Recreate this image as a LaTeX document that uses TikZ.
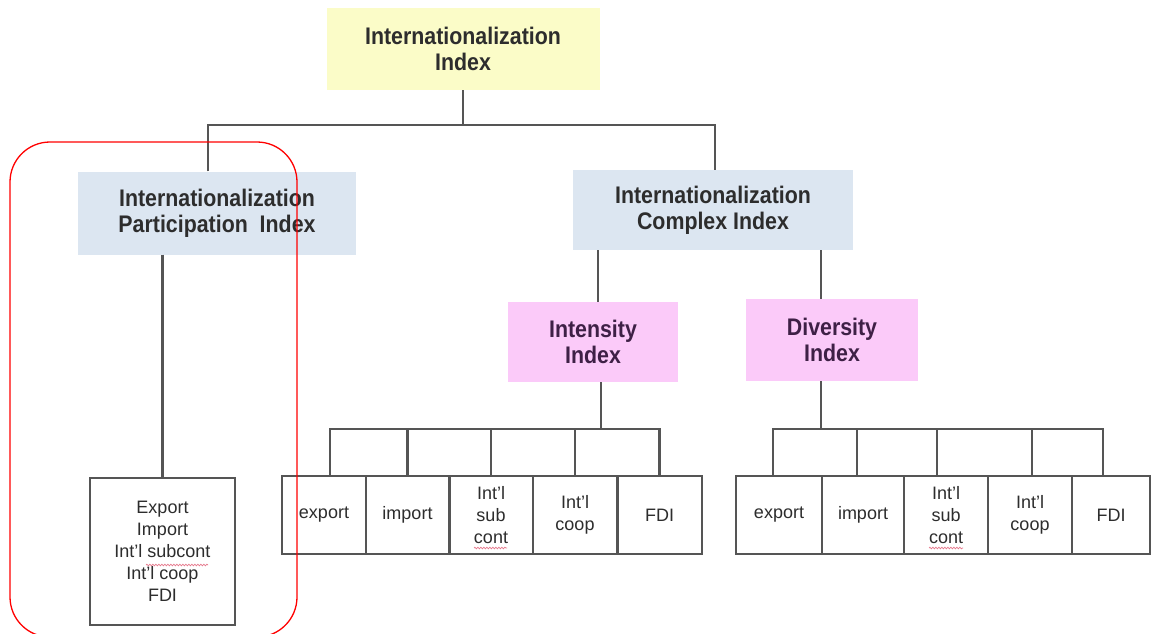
\documentclass[tikz,border=0pt]{standalone}
\usepackage{fontspec}
\setmainfont{Liberation Sans}
\newfontfamily\hdfont[FakeStretch=0.89]{Liberation Sans}
\usetikzlibrary{decorations.pathmorphing}

\definecolor{lineGray}{RGB}{85,85,85}
\definecolor{paleYellow}{RGB}{251,252,200}
\definecolor{paleBlue}{RGB}{220,230,241}
\definecolor{palePink}{RGB}{251,202,249}
\definecolor{darkText}{RGB}{45,45,45}
\definecolor{plumText}{RGB}{62,32,70}
\definecolor{squiggle}{RGB}{230,120,140}

\begin{document}
\begin{tikzpicture}[x=1pt,y=-1pt,
  header/.style={inner sep=0pt, align=center, text=darkText,
    font={\hdfont\bfseries\fontsize{24}{26}\selectfont}},
  leaf/.style={draw=lineGray, line width=2pt, inner sep=0pt, align=center,
    text=darkText, minimum width=84pt, minimum height=78pt,
    font={\fontsize{18}{22}\selectfont}},
  link/.style={draw=lineGray, line width=2.2pt},
  spell/.style={draw=squiggle, line width=0.7pt,
    decorate, decoration={snake, amplitude=0.8pt, segment length=3pt}}
]
\clip (0,0) rectangle (1151,634);
\fill[white] (0,0) rectangle (1151,634);

% --- top level
\node[header, fill=paleYellow, minimum width=273pt, minimum height=82pt]
  (top) at (463,49) {Internationalization\\Index};

% --- second level
\node[header, fill=paleBlue, minimum width=278pt, minimum height=83pt]
  (part) at (217,213) {Internationalization\\Participation\ \ Index};
\node[header, fill=paleBlue, minimum width=280pt, minimum height=80pt]
  (cx) at (713,210) {Internationalization\\Complex Index};

% --- third level
\node[header, fill=palePink, text=plumText, minimum width=170pt, minimum height=80pt]
  (int) at (593,342) {Intensity\\Index};
\node[header, fill=palePink, text=plumText, minimum width=172pt, minimum height=82pt]
  (div) at (832,340) {Diversity\\Index};

% --- participation leaf list
\node[leaf, minimum width=145pt, minimum height=147pt]
  (list) at (162.5,551.5) {Export\\Import\\Int'l subcont\\Int'l coop\\FDI};

% --- intensity leaves
\node[leaf] (ia) at (324,515) {export};
\node[leaf] (ib) at (407.5,515) {import};
\node[leaf] (ic) at (491,515) {Int'l\\sub\\cont};
\node[leaf] (id) at (575,515) {Int'l\\coop};
\node[leaf] (ie) at (659.5,515) {FDI};

% --- diversity leaves
\node[leaf, minimum width=86pt] (da) at (779,515) {export};
\node[leaf, minimum width=82pt] (db) at (863,515) {import};
\node[leaf] (dc) at (946,515) {Int'l\\sub\\cont};
\node[leaf] (dd) at (1030,515) {Int'l\\coop};
\node[leaf, minimum width=78pt] (de) at (1111,515) {FDI};

% --- connectors: top to second level
\coordinate (j1) at (463,125);
\draw[link] (top.south) -- (j1);
\draw[link] ([xshift=-9pt]part.north) |- (j1) -| ([xshift=2pt]cx.north);

% participation to its list
\draw[link] (list.north |- part.south) -- (list.north);

% complex to intensity / diversity
\draw[link] ([xshift=5pt]int.north |- cx.south) -- ([xshift=5pt]int.north);
\draw[link] ([xshift=-11pt]div.north |- cx.south) -- ([xshift=-11pt]div.north);

% intensity to its leaves
\coordinate (ibar) at (601,429);
\draw[link] ([xshift=8pt]int.south) -- (ibar);
\draw[link] ([xshift=6pt]ia.north) |- (ibar -| ie.north) -- (ie.north);
\foreach \n in {ib,ic,id} \draw[link] (\n.north |- ibar) -- (\n.north);

% diversity to its leaves
\coordinate (dbar) at (821,429);
\draw[link] ([xshift=-11pt]div.south) -- (dbar);
\draw[link] ([xshift=-6pt]da.north) |- ([xshift=-8pt]dbar -| de.north) -- ([xshift=-8pt]de.north);
\foreach \n/\s in {db/-6pt,dc/-9pt,dd/2pt} \draw[link] ([xshift=\s]\n.north |- dbar) -- ([xshift=\s]\n.north);

% spell-check underlines
\draw[spell] (146,565) -- (208,565);
\draw[spell] (474,548) -- (507,548);
\draw[spell] (929,548) -- (963,548);

% highlight frame round the participation branch
\draw[red, line width=1.3pt, rounded corners=40pt] (10,142) rectangle (297,637);
\end{tikzpicture}
\end{document}
